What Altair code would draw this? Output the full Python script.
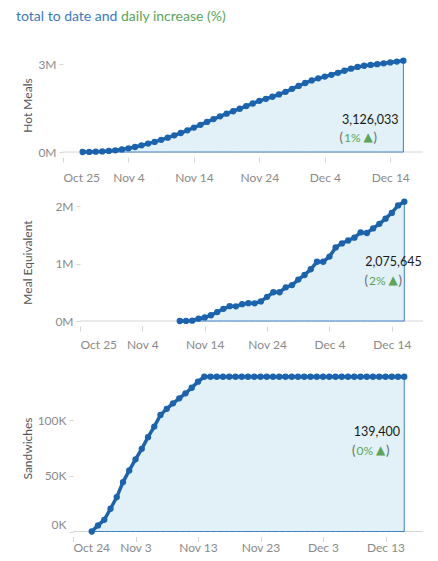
import altair as alt
import pandas as pd

# ---------------- data ----------------
hot_start = "2020-10-28"
hot_values = [
    0, 4000, 10000, 20000, 36000, 58000, 88000, 125000, 172000, 228000,
    288000, 345000, 415000, 490000, 570000, 650000, 740000, 835000, 930000, 1030000,
    1125000, 1220000, 1310000, 1395000, 1480000, 1570000, 1660000, 1750000, 1820000, 1890000,
    1970000, 2060000, 2160000, 2260000, 2360000, 2450000, 2520000, 2580000, 2640000, 2710000,
    2780000, 2850000, 2910000, 2950000, 2980000, 3005000, 3035000, 3065000, 3095000, 3126033,
]

meal_start = "2020-11-10"
meal_values = [
    0, 2000, 5000, 40000, 62000, 100000, 155000, 212000, 258000, 255000,
    292000, 310000, 308000, 340000, 420000, 500000, 500000, 585000, 625000, 720000,
    800000, 900000, 1030000, 1030000, 1120000, 1280000, 1350000, 1400000, 1450000, 1540000,
    1530000, 1610000, 1690000, 1780000, 1880000, 2010000, 2075645,
]

sand_start = "2020-10-27"
sand_values = [
    0, 5500, 10500, 20500, 31000, 44500, 55000, 65000, 74500, 85000,
    94500, 105000, 110500, 115500, 120000, 124500, 129500, 135000, 139400, 139400,
    139400, 139400, 139400, 139400, 139400, 139400, 139400, 139400, 139400, 139400,
    139400, 139400, 139400, 139400, 139400, 139400, 139400, 139400, 139400, 139400,
    139400, 139400, 139400, 139400, 139400, 139400, 139400, 139400, 139400, 139400,
    139400,
]

panel_titles = ["Hot Meals", "Meal Equivalent", "Sandwiches"]
pct_labels = ["1%", "2%", "0%"]
title_parts = ["total to date and", "daily increase (%)"]
hot_yticks = [0, 1000000, 2000000, 3000000]
meal_yticks = [0, 1000000, 2000000]
sand_yticks = [0, 50000, 100000]
ticks_a = [(10, 25), (11, 4), (11, 14), (11, 24), (12, 4), (12, 14)]
ticks_b = [(10, 24), (11, 3), (11, 13), (11, 23), (12, 3), (12, 13)]

LINE = "#1c63ad"
FILL = "#e1f1f7"
EDGE = "#3f80c2"
GREEN = "#5ba45a"
TITLE_BLUE = "#3b79bf"
FONT = "Lato"


def make_df(start, vals):
    d = pd.date_range(start, periods=len(vals), freq="D")
    return pd.DataFrame({"date": d.strftime("%Y-%m-%dT00:00:00"), "value": vals})


def dt(m, d, h=0, mi=0):
    return alt.DateTime(year=2020, month=m, date=d, hours=h, minutes=mi)


def panel(df, title, ymax, yticks, label_expr, dom_start, vis_start, xticks, height,
          y_off, title_x, title_y, pct, total_x, total_y, lp_x, pct_y,
          label_pad, flush_x, flush_y, extra=None):
    x = alt.X(
        "date:T",
        scale=alt.Scale(domain=[dom_start, dt(12, 19)]),
        axis=alt.Axis(
            title=None, values=[dt(m, d) for m, d in xticks], format="%b %-d",
            domain=False, grid=False, tickSize=5, offset=5, labelPadding=label_pad,
            tickColor="#d6d6d6", labelColor="#8a8a8a", labelFontSize=12,
            labelFont=FONT, labelFlush=flush_x,
        ),
    )
    y = alt.Y(
        "value:Q",
        scale=alt.Scale(domain=[0, ymax], nice=False, zero=True),
        axis=alt.Axis(
            title=title, values=yticks, labelExpr=label_expr, domain=False,
            grid=False, tickSize=4, labelPadding=3, tickColor="#d6d6d6",
            labelColor="#8a8a8a", labelFontSize=12, labelFont=FONT, offset=y_off,
            labelFlush=flush_y, titleX=title_x, titleY=title_y,
            titleBaseline="middle", titleAngle=270, titleFont=FONT,
            titleFontSize=12, titleFontWeight="normal", titleColor="#555555",
        ),
    )
    base = alt.Chart(df)
    one = alt.Chart(pd.DataFrame({"k": [0]}))
    zero = one.mark_rule(color="#d6d6d6", strokeWidth=1).encode(
        x=alt.datum(vis_start), x2=alt.datum(dt(12, 19)), y=alt.datum(0))
    area = base.mark_area(fill=FILL, fillOpacity=1, stroke=EDGE, strokeWidth=1).encode(x=x, y=y)
    line = base.mark_line(color=LINE, strokeWidth=3.5).encode(x=x, y=y)
    pts = base.mark_circle(color=LINE, size=40, opacity=1).encode(x=x, y=y)
    last = df.iloc[[-1]].assign(lbl=f"{int(df['value'].iloc[-1]):,}", pct=pct)
    tdf = alt.Chart(last)
    total = tdf.mark_text(align="right", baseline="middle", font=FONT, fontSize=12.5,
                          color="#1a1a1a").encode(x=alt.value(total_x), y=alt.value(total_y),
                                                  text="lbl:N")
    lp = one.mark_text(align="right", baseline="middle", font=FONT, fontSize=13,
                       color="#6a6a6a", text="(").encode(x=alt.value(lp_x), y=alt.value(pct_y))
    g = tdf.mark_text(align="left", baseline="middle", font=FONT, fontSize=12,
                      color=GREEN).encode(x=alt.value(lp_x + 1), y=alt.value(pct_y), text="pct:N")
    tri = one.mark_text(align="center", baseline="middle", font="DejaVu Sans", fontSize=12,
                        color=GREEN, text="\u25B2").encode(x=alt.value(lp_x + 25),
                                                          y=alt.value(pct_y - 0.5))
    rp = one.mark_text(align="left", baseline="middle", font=FONT, fontSize=13,
                       color="#6a6a6a", text=")").encode(x=alt.value(lp_x + 30.5), y=alt.value(pct_y))
    layers = [zero, area, line, pts, total, lp, g, tri, rp]
    if extra is not None:
        layers.extend(extra)
    return alt.layer(*layers).properties(width=360, height=height)


blue_title = alt.Chart(pd.DataFrame({"t": [title_parts[0]]})).mark_text(
    align="left", baseline="alphabetic", font=FONT, fontSize=14, color=TITLE_BLUE
).encode(x=alt.value(-47), y=alt.value(-28), text="t:N")
green_title = alt.Chart(pd.DataFrame({"t": [title_parts[1]]})).mark_text(
    align="left", baseline="alphabetic", font=FONT, fontSize=14, color=GREEN
).encode(x=alt.value(58), y=alt.value(-28), text="t:N")

p1 = panel(make_df(hot_start, hot_values), panel_titles[0], 3524000, hot_yticks,
           "datum.value / 1000000 + 'M'", dt(10, 25), dt(10, 25), ticks_a, 103,
           0, -36, 56, pct_labels[0], 335.5, 71, 280, 88.7, 10, True, False,
           extra=[blue_title, green_title])
p2 = panel(make_df(meal_start, meal_values), panel_titles[1], 2261000, meal_yticks,
           "datum.value / 1000000 + 'M'", dt(10, 22, 6, 35), dt(10, 25), ticks_a, 130,
           -17, -53, 71, pct_labels[1], 358.7, 70.7, 305, 89.7, 8, 20, False)
p3 = panel(make_df(sand_start, sand_values), panel_titles[2], 156300, sand_yticks,
           "datum.value / 1000 + 'K'", dt(10, 22, 9, 36), dt(10, 24), ticks_b, 173.5,
           -10, -46, 90, pct_labels[2], 337, 73.7, 292.5, 92.7, 1, 15, True)

chart = alt.vconcat(p1, p2, p3, spacing=8).properties(
    padding={"left": 8, "top": 2, "right": 5, "bottom": 2},
).configure_view(stroke=None)

chart.save("out.html", embed_options={"renderer": "svg", "actions": False})
